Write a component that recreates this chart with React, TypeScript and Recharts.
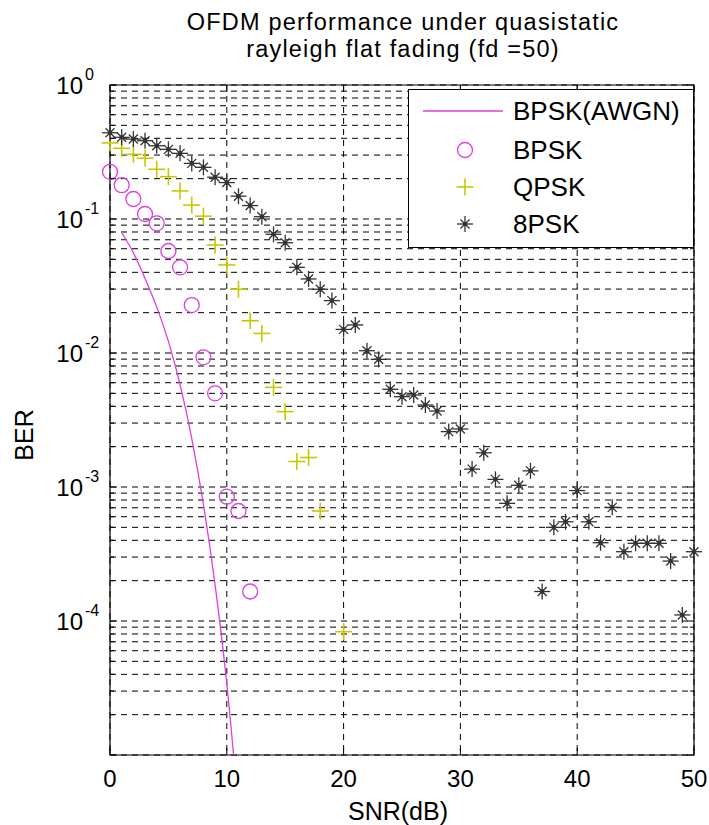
import React from 'react';
import { ComposedChart, Line, Scatter, XAxis, YAxis, CartesianGrid, ReferenceArea } from 'recharts';

// ---------- data ----------
const snrAwgn = [1, 2, 3, 4, 5, 6, 7, 8, 9, 10, 11];
const berAwgn = [0.079, 0.056, 0.036, 0.022, 0.0122, 0.0058, 0.0023, 0.00074, 0.000185, 0.000034, 0.0000039];

const snrBpsk = [0, 1, 2, 3, 4, 5, 6, 7, 8, 9, 10, 11, 12];
const berBpsk = [0.225, 0.179, 0.141, 0.109, 0.0929, 0.0577, 0.0436, 0.0228, 0.00929, 0.005, 0.000847, 0.000662, 0.000166];

const snrQpsk = [0, 1, 2, 3, 4, 5, 6, 7, 8, 9, 10, 11, 12, 13, 14, 15, 16, 17, 18, 20];
const berQpsk = [0.37, 0.337, 0.304, 0.284, 0.235, 0.207, 0.162, 0.127, 0.105, 0.064, 0.0454, 0.0299, 0.0174, 0.014, 0.00554, 0.00365, 0.00155, 0.00166, 0.000662, 0.0000832];

const snr8psk = [0, 1, 2, 3, 4, 5, 6, 7, 8, 9, 10, 11, 12, 13, 14, 15, 16, 17, 18, 19, 20, 21, 22, 23, 24, 25, 26, 27, 28, 29, 30, 31, 32, 33, 34, 35, 36, 37, 38, 39, 40, 41, 42, 43, 44, 45, 46, 47, 48, 49, 50];
const ber8psk = [0.44, 0.407, 0.395, 0.384, 0.352, 0.331, 0.309, 0.26, 0.243, 0.205, 0.187, 0.148, 0.126, 0.104, 0.0769, 0.0665, 0.0436, 0.0357, 0.0299, 0.0246, 0.015, 0.0162, 0.0104, 0.00897, 0.00536, 0.00472, 0.00486, 0.00409, 0.00369, 0.00259, 0.00271, 0.00136, 0.0018, 0.00114, 0.000755, 0.00103, 0.00132, 0.000166, 0.0005, 0.00055, 0.00094, 0.00055, 0.000384, 0.000705, 0.000329, 0.00038, 0.00038, 0.00038, 0.00028, 0.000111, 0.000329];

const xTicks = [0, 10, 20, 30, 40, 50];
const yMajorTicks = [1e-5, 1e-4, 1e-3, 1e-2, 1e-1, 1];
const yMinorMultipliers = [2, 3, 4, 5, 6, 7, 8, 9];

const seriesNames = ['BPSK(AWGN)', 'BPSK', 'QPSK', '8PSK'];
const titleLines = ['OFDM performance under quasistatic', 'rayleigh flat fading (fd =50)'];
const xLabel = 'SNR(dB)';
const yLabel = 'BER';

// ---------- derived tables ----------
const toRows = (xs: number[], ys: number[]) => xs.map((s, i) => ({ snr: s, ber: ys[i] }));
const awgnRows = toRows(snrAwgn, berAwgn);
const bpskRows = toRows(snrBpsk, berBpsk);
const qpskRows = toRows(snrQpsk, berQpsk);
const psk8Rows = toRows(snr8psk, ber8psk);

const yTicks: number[] = [];
yMajorTicks.forEach((d, i) => {
  yTicks.push(d);
  if (i < yMajorTicks.length - 1) yMinorMultipliers.forEach((m) => yTicks.push(+(d * m).toPrecision(6)));
});

// ---------- styling / layout (page coordinates, wrapper fixed at 0,0) ----------
const FONT = '"Liberation Sans", Arial, Helvetica, sans-serif';
const W = 709;
const H = 825;
const M = { top: 85, right: 15, bottom: 10, left: 20 };
const YAXIS_W = 90;
const XAXIS_H = 60;
const PLOT_W = W - M.left - YAXIS_W - M.right;
const PLOT_H = H - M.top - M.bottom - XAXIS_H;

const MAGENTA = '#e03ce0';
const YELLOW = '#c8c800';
const DARK = '#333333';

const CircleMark = ({ cx, cy }: any) => (
  <circle cx={cx} cy={cy} r={7.5} fill="none" stroke={MAGENTA} strokeWidth={1.3} />
);
const PlusMark = ({ cx, cy }: any) => (
  <g stroke={YELLOW} strokeWidth={1.6}>
    <line x1={cx - 8.5} y1={cy} x2={cx + 8.5} y2={cy} />
    <line x1={cx} y1={cy - 8.5} x2={cx} y2={cy + 8.5} />
  </g>
);
const StarMark = ({ cx, cy }: any) => (
  <g stroke={DARK} strokeWidth={1.3}>
    <line x1={cx - 8} y1={cy} x2={cx + 8} y2={cy} />
    <line x1={cx} y1={cy - 8} x2={cx} y2={cy + 8} />
    <line x1={cx - 4.5} y1={cy - 4.5} x2={cx + 4.5} y2={cy + 4.5} />
    <line x1={cx - 4.5} y1={cy + 4.5} x2={cx + 4.5} y2={cy - 4.5} />
    <circle cx={cx} cy={cy} r={2.3} fill={DARK} stroke="none" />
  </g>
);

const YTick = (props: any) => {
  const { x, y, payload } = props;
  const v = payload.value;
  const lg = Math.log10(v);
  const e = Math.round(lg);
  const major = Math.abs(lg - e) < 1e-6;
  const len = major ? 7 : 4;
  return (
    <g>
      <line x1={x} y1={y} x2={x + len} y2={y} stroke="#000" />
      <line x1={x + PLOT_W - len} y1={y} x2={x + PLOT_W} y2={y} stroke="#000" />
      {major && e > -5 && (
        <g fontFamily={FONT} fill="#000">
          <text x={x - 27} y={y + 9} fontSize={24} textAnchor="end">10</text>
          <text x={x - 25} y={y - 5} fontSize={16} textAnchor="start">{String(e)}</text>
        </g>
      )}
    </g>
  );
};

const XTick = (props: any) => {
  const { x, y, payload } = props;
  return (
    <g>
      <line x1={x} y1={y} x2={x} y2={y - 7} stroke="#000" />
      <line x1={x} y1={y - PLOT_H} x2={x} y2={y - PLOT_H + 7} stroke="#000" />
      <text x={x} y={y + 32} textAnchor="middle" fontSize={24} fontFamily={FONT} fill="#000">
        {payload.value}
      </text>
    </g>
  );
};

const Overlay = () => {
  const rows = [111, 150, 187, 224];
  return (
    <svg width={W} height={H} style={{ position: 'absolute', left: 0, top: 0, pointerEvents: 'none', overflow: 'visible' }}>
      <g fontFamily={FONT} fill="#000">
        <text x={403} y={30} fontSize={23.5} textAnchor="middle" letterSpacing={1.2}>{titleLines[0]}</text>
        <text x={403} y={56.5} fontSize={23.5} textAnchor="middle" letterSpacing={1.2}>{titleLines[1]}</text>
        <text x={398} y={820} fontSize={25} textAnchor="middle">{xLabel}</text>
        <text x={33} y={435} fontSize={25} textAnchor="middle" transform="rotate(-90, 33, 435)">{yLabel}</text>
      </g>
      <rect x={408.5} y={89.5} width={285} height={158} fill="#fff" stroke="#000" strokeWidth={1} />
      <line x1={423} y1={rows[0]} x2={503} y2={rows[0]} stroke={MAGENTA} strokeWidth={1.3} />
      <CircleMark cx={465} cy={rows[1]} />
      <PlusMark cx={465} cy={rows[2]} />
      <StarMark cx={465} cy={rows[3]} />
      <g fontFamily={FONT} fill="#000" fontSize={26}>
        {seriesNames.map((n, i) => (
          <text key={n} x={513} y={rows[i] + 9}>{n}</text>
        ))}
      </g>
    </svg>
  );
};

export default function App() {
  return (
    <div style={{ position: 'fixed', left: 0, top: 0, width: W, height: H, background: '#fff' }}>
      <ComposedChart width={W} height={H} margin={M}>
        <CartesianGrid stroke="#000" strokeDasharray="6 5" strokeWidth={1} />
        <XAxis
          type="number"
          dataKey="snr"
          domain={[0, 50]}
          ticks={xTicks}
          interval={0}
          height={XAXIS_H}
          tickSize={0}
          tickMargin={0}
          axisLine={false}
          tick={<XTick />}
        />
        <YAxis
          type="number"
          scale="log"
          domain={[1e-5, 1]}
          ticks={yTicks}
          interval={0}
          width={YAXIS_W}
          tickSize={0}
          tickMargin={0}
          axisLine={false}
          tick={<YTick />}
        />
        <YAxis yAxisId="clip" type="number" scale="log" domain={[1e-5, 1]} allowDataOverflow hide />
        <ReferenceArea x1={0} x2={50} y1={1e-5} y2={1} fill="none" fillOpacity={0} stroke="#000" strokeWidth={1.2} />
        <Line
          yAxisId="clip"
          data={awgnRows}
          dataKey="ber"
          type="monotone"
          stroke={MAGENTA}
          strokeWidth={1.3}
          dot={false}
          activeDot={false}
          isAnimationActive={false}
        />
        <Scatter data={bpskRows} dataKey="ber" shape={<CircleMark />} isAnimationActive={false} />
        <Scatter data={qpskRows} dataKey="ber" shape={<PlusMark />} isAnimationActive={false} />
        <Scatter data={psk8Rows} dataKey="ber" shape={<StarMark />} isAnimationActive={false} />
      </ComposedChart>
      <Overlay />
    </div>
  );
}
